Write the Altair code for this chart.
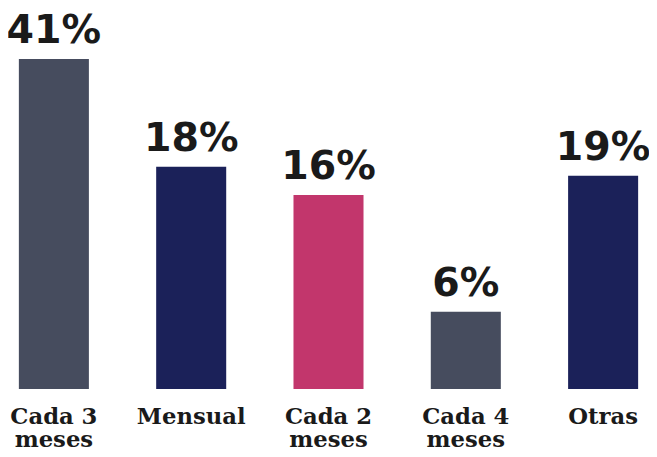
import altair as alt
import pandas as pd

# Categories (line break marks the two-line axis labels)
categories = ["Cada 3\nmeses", "Mensual", "Cada 2\nmeses", "Cada 4\nmeses", "Otras"]
# Percentages printed above the bars
labels_pct = [41, 18, 16, 6, 19]
# Bar heights as drawn in the infographic (not proportional to the printed %),
# expressed on the same unit scale as the 41% bar
drawn_heights = [41, 27.6, 24.1, 9.6, 26.5]
colors = ["#464c5e", "#1b2159", "#c2366c", "#464c5e", "#1b2159"]

df = pd.DataFrame({
    "cat": categories,
    "pct": labels_pct,
    "h": drawn_heights,
    "color": colors,
})
df["label"] = df["pct"].astype(str) + "%"

x = alt.X("cat:N", sort=categories,
          scale=alt.Scale(paddingInner=0.49, paddingOuter=0),
          axis=alt.Axis(title=None, labelAngle=0, domain=False, ticks=False, grid=False,
                        labelExpr="split(datum.label, '\\n')",
                        labelFont="DejaVu Serif", labelFontWeight="bold",
                        labelFontSize=23, labelColor="#1a1a1a",
                        labelLineHeight=23, labelPadding=17, labelBaseline="top"))
y = alt.Y("h:Q", scale=alt.Scale(domain=[0, 47], nice=False, zero=True), axis=None)

bars = alt.Chart(df).mark_bar().encode(
    x=x, y=y, color=alt.Color("color:N", scale=None)
)
text = alt.Chart(df).mark_text(
    font="DejaVu Sans", fontWeight="bold", fontSize=40, color="#1a1a1a",
    baseline="alphabetic", dy=-16
).encode(x=alt.X("cat:N", sort=categories), y=y, text="label:N")

chart = alt.layer(bars, text).properties(
    width=627, height=383,
    background="white",
    autosize=alt.AutoSizeParams(type="none"),
    padding={"left": 11, "top": 0, "right": 11, "bottom": 58},
).configure_view(stroke=None, strokeWidth=0)

chart.save("out.html", embed_options={"renderer": "svg", "actions": False})
